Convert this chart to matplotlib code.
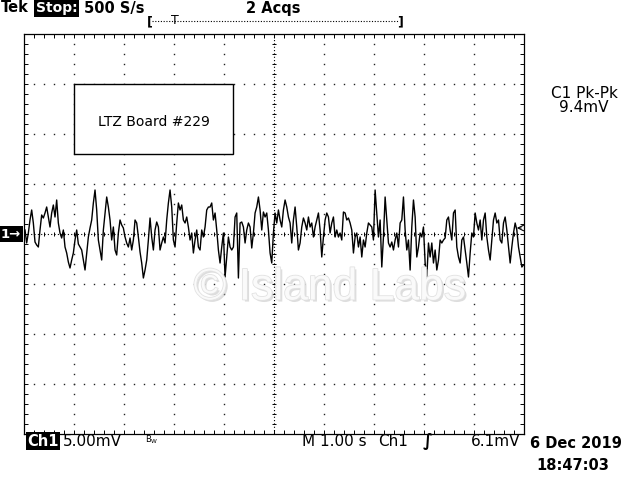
import numpy as np
import matplotlib.pyplot as plt
from matplotlib.lines import Line2D
from matplotlib.patches import Rectangle
import matplotlib.patheffects as pe

plt.rcParams["font.family"] = ["DejaVu Sans"]

# scope trace (mV), 300 points over 10 s
seg1 = [0.4, -0.9, 0.1, 1.4, 2.4, 1.1, -0.8, -1.1, -1.3, 0.4,
        1.9, 1.6, 2.1, 2.7, 1.7, 0.7, 2.1, 2.9, 1.7, 3.4,
        1.1, 0.1, -0.4, 0.4, -1.3, -1.9, -2.8, -3.4, -2.6, -1.9,
        -0.6, 0.4, -1.0, -1.3, -1.6, -2.6, -3.6, -1.9, -0.3, 0.6,
        1.4, 3.1, 4.4, 2.4, -0.6, -1.6, -2.6, 0.4, 2.1, 3.7,
        2.7, 1.4, -0.6, 0.7, -1.6, -2.1, 0.1, 1.4, 0.9, 0.6,
        -0.3, -0.9, -1.3]
seg2 = [-0.4, -1.6, -0.6, 1.4, 1.1, -0.3, -1.8, -2.9, -4.4, -3.6,
        -2.6, -0.6, 1.6, -0.3, -1.6, 0.4, 1.2, 0.7, -1.6, -0.9,
        -0.3, -0.9, 1.4, 3.1, 4.4, 2.7, -0.6, -1.3, 1.1, 3.1,
        2.4, 2.9, 1.4, 1.1, 1.7, 0.7, -0.6, 0.1, -1.9, -0.6,
        0.4, -1.3, -1.6, 0.4, -0.3, 0.7, 2.4, 2.7, 2.7, 3.1,
        1.4, 2.1, 0.4, -1.6, -2.9, -1.3, 0.1, -4.3, -2.3, -0.3]
seg3 = [-1.3, -1.6, -1.3, 1.7, 2.1, -4.4, 1.1, 1.2, 0.7, -0.9,
        0.4, 1.1, 0.7, -1.4, 0.1, 2.1, 2.7, 3.7, 2.4, 0.4,
        2.2, 1.7, 2.1, 0.4, -1.9, -2.9, 0.1, 2.1, 1.1, 2.4,
        1.4, 0.7, 2.4, 3.4, 2.7, 1.7, 1.1, -0.9, 1.4, 2.7,
        0.7, -1.6, -0.9, 0.7, 1.6, 1.1, 0.4, 1.7, 0.7, 1.1,
        -0.3, 0.7, 1.4, 2.1, 0.4, -2.3, -0.3, 1.4, 2.1, 1.7]
seg4 = [0.1, 1.1, 1.7, -0.3, 0.4, -0.3, 0.1, -0.6, 2.2, 2.1,
        1.4, 1.6, 1.1, 0.4, -1.9, -0.3, 0.1, -1.3, -0.3, -2.3,
        -0.6, -1.3, 0.1, 1.1, 0.9, 0.7, -0.6, 4.4, 2.1, -0.3,
        1.4, -3.3, -0.3, 3.7, 1.4, -0.9, -1.3, -0.8, -1.6, -0.6,
        0.1, -1.3, 1.1, 1.4, 3.7, 0.4, -1.6, -0.6, -3.6, 0.7,
        3.4, 1.7, -2.3, -1.3, 0.1, -0.3, 0.7, -2.9, -4.3, -0.9]
seg5 = [-2.3, -0.9, -2.9, -1.6, -3.6, -2.6, -0.6, -0.9, -0.6, -0.4,
        1.4, 1.7, 0.4, -0.6, 2.1, 2.4, -1.3, -2.3, -2.9, -0.6,
        -0.3, -1.6, -2.9, -4.3, -1.9, 0.1, -0.3, 2.1, 1.1, 0.4,
        1.4, -0.6, 1.4, 2.1, -0.3, -1.6, -2.6, -0.6, 1.4, 2.1,
        1.1, 1.4, -0.6, -0.9, 1.1, 1.7, 0.4, -1.3, -2.9, -1.3,
        0.1, 1.1, 0.4, -1.3, -2.3, -3.3, -3.1]
trace_mv = np.array(seg1 + seg2 + seg3 + seg4 + seg5)
t_start, t_end = 0.02, 9.99   # seconds, 1.00 s/div
volts_div = 5.0               # mV/div
trig_level_mv = 0.6

W, H = 640, 480


def px(x, y):
    return x / W, 1 - y / H


fig = plt.figure(figsize=(6.4, 4.8), dpi=100)
ax = fig.add_axes([24 / W, 46 / H, 500 / W, 400 / H])
ax.set_xlim(0, 10)
ax.set_ylim(-4 * volts_div, 4 * volts_div)

# graticule
for s in ax.spines.values():
    s.set_linewidth(0.9)
ax.set_xticks(np.arange(0, 10.01, 1))
ax.set_xticks(np.arange(0, 10.01, 0.2), minor=True)
ax.set_yticks(np.arange(-20, 20.01, 5))
ax.set_yticks(np.arange(-20, 20.01, 1), minor=True)
ax.tick_params(which="both", direction="in", length=3, width=0.7,
               top=True, right=True, labelbottom=False, labelleft=False)

gx = [k for k in range(1, 10) if k != 5]
gy = [v for v in range(-15, 16, 5) if v != 0]
sub_y = np.arange(-19, 20, 1)
sub_x = np.arange(0.2, 10, 0.2)
for k in gx:
    ax.plot(np.full(sub_y.size, k), sub_y, ls="none", marker="s", ms=1.0,
            mew=0, color="#222222", zorder=1)
for v in gy:
    ax.plot(sub_x, np.full(sub_x.size, v), ls="none", marker="s", ms=1.0,
            mew=0, color="#222222", zorder=1)

# centre cross
ax.plot([0, 10], [0, 0], ls=(0, (1, 2)), lw=0.8, color="k", zorder=1)
ax.plot([5, 5], [-20, 20], ls=(0, (1, 2)), lw=0.8, color="k", zorder=1)
ax.plot(sub_x, np.zeros(sub_x.size), ls="none", marker="|", ms=3.5,
        mew=0.7, color="k", zorder=1)
ax.plot(np.full(sub_y.size, 5), sub_y, ls="none", marker="_", ms=3.5,
        mew=0.7, color="k", zorder=1)

# watermark
fig.text(*px(330, 288), "\u00a9 Island Labs", ha="center", va="center",
         family="Liberation Sans", fontsize=32, color="#fafafa", zorder=2,
         path_effects=[pe.withSimplePatchShadow(offset=(1.5, -1.5),
                                                shadow_rgbFace="#b5b5b5",
                                                alpha=0.45),
                       pe.Stroke(linewidth=1.2, foreground="#e2e2e2"),
                       pe.Normal()])

# trace
t = np.linspace(t_start, t_end, trace_mv.size)
ax.plot(t, trace_mv, color="k", lw=1.0, zorder=5)

# trigger level arrow at right edge
ax.annotate("", xy=(9.8, trig_level_mv), xytext=(10.0, trig_level_mv),
            arrowprops=dict(arrowstyle="->", lw=0.8, color="k"), zorder=6)

# note box
ax.add_patch(Rectangle((1.0, 8.0), 3.18, 7.0, facecolor="white",
                       edgecolor="k", lw=1.0, zorder=6))
ax.text(2.59, 11.2, "LTZ Board #229", ha="center", va="center",
        fontsize=10, zorder=7)

# top status line
fig.text(*px(1, 8), "Tek", ha="left", va="center", fontsize=10.5,
         fontweight="bold")
fig.text(*px(36, 8), "Stop:", ha="left", va="center", fontsize=10,
         fontweight="bold", color="white",
         bbox=dict(facecolor="black", edgecolor="none", pad=1.2))
fig.text(*px(84, 8), "500 S/s", ha="left", va="center", fontsize=10.5,
         fontweight="bold")
fig.text(*px(273, 8), "2 Acqs", ha="center", va="center", fontsize=10.5,
         fontweight="bold")
fig.add_artist(Line2D([152 / W, 398 / W], [1 - 21 / H, 1 - 21 / H],
                      ls=(0, (1, 1.5)), lw=0.8, color="k"))
fig.text(*px(150, 22), "[", ha="center", va="center", fontsize=9,
         fontweight="bold")
fig.text(*px(400, 22), "]", ha="center", va="center", fontsize=9,
         fontweight="bold")
fig.text(*px(175, 21), "T", ha="center", va="center", fontsize=9)

# channel marker
fig.text(*px(1, 234), "1\u2192", ha="left", va="center", fontsize=9.5,
         fontweight="bold", color="white",
         bbox=dict(facecolor="black", edgecolor="none", pad=1.0))

# measurement readout
fig.text(*px(584, 93), "C1 Pk-Pk", ha="center", va="center", fontsize=11)
fig.text(*px(584, 108), "9.4mV", ha="center", va="center", fontsize=11)

# bottom status line
fig.text(*px(27, 441), "Ch1", ha="left", va="center", fontsize=10.5,
         fontweight="bold", color="white",
         bbox=dict(facecolor="black", edgecolor="none", pad=1.0))
fig.text(*px(63, 441), "5.00mV", ha="left", va="center", fontsize=11)
fig.text(*px(145, 440), r"$\mathregular{B_W}$", ha="left", va="center",
         fontsize=6)
fig.text(*px(302, 441), "M 1.00 s", ha="left", va="center", fontsize=11)
fig.text(*px(378, 441), "Ch1", ha="left", va="center", fontsize=11)
fig.text(*px(428, 441), "\u222b", ha="center", va="center", fontsize=12,
         fontweight="bold")
fig.text(*px(520, 441), "6.1mV", ha="right", va="center", fontsize=11)
fig.text(*px(530, 444), "6 Dec 2019", ha="left", va="center", fontsize=10.5,
         fontweight="bold")
fig.text(*px(536, 466), "18:47:03", ha="left", va="center", fontsize=10.5,
         fontweight="bold")

fig.savefig("out.png", dpi=100)
